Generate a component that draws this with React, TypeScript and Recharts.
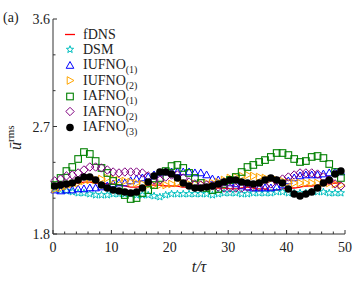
import React from 'react';
import { ComposedChart, Line, XAxis, YAxis } from 'recharts';

const times = [
  0.3, 1.3, 2.3, 3.3, 4.3, 5.3, 6.3, 7.3, 8.3, 9.3,
  10.3, 11.3, 12.3, 13.3, 14.3, 15.3, 16.3, 17.3, 18.3, 19.3,
  20.3, 21.3, 22.3, 23.3, 24.3, 25.3, 26.3, 27.3, 28.3, 29.3,
  30.3, 31.3, 32.3, 33.3, 34.3, 35.3, 36.3, 37.3, 38.3, 39.3,
  40.3, 41.3, 42.3, 43.3, 44.3, 45.3, 46.3, 47.3, 48.3, 49.3,
];

const fdns = [
  2.202, 2.21, 2.219, 2.227, 2.227, 2.235, 2.235, 2.227, 2.227, 2.219,
  2.219, 2.21, 2.202, 2.193, 2.193, 2.202, 2.21, 2.21, 2.21, 2.202,
  2.202, 2.202, 2.193, 2.193, 2.193, 2.193, 2.193, 2.185, 2.185, 2.185,
  2.177, 2.177, 2.185, 2.193, 2.185, 2.177, 2.177, 2.168, 2.168, 2.177,
  2.185, 2.185, 2.193, 2.202, 2.202, 2.21, 2.219, 2.219, 2.227, 2.227,
];

const dsm = [
  2.177, 2.168, 2.16, 2.152, 2.143, 2.143, 2.135, 2.126, 2.126, 2.126,
  2.135, 2.135, 2.135, 2.135, 2.126, 2.126, 2.126, 2.118, 2.11, 2.126,
  2.135, 2.135, 2.135, 2.135, 2.135, 2.135, 2.135, 2.126, 2.135, 2.143,
  2.143, 2.143, 2.135, 2.135, 2.143, 2.143, 2.143, 2.143, 2.152, 2.152,
  2.143, 2.143, 2.143, 2.143, 2.152, 2.152, 2.152, 2.143, 2.143, 2.143,
];

const iufno1 = [
  2.168, 2.16, 2.168, 2.168, 2.177, 2.177, 2.185, 2.185, 2.193, 2.202,
  2.219, 2.227, 2.227, 2.244, 2.26, 2.269, 2.277, 2.294, 2.311, 2.319,
  2.319, 2.319, 2.319, 2.319, 2.311, 2.311, 2.294, 2.26, 2.252, 2.235,
  2.227, 2.219, 2.202, 2.193, 2.185, 2.185, 2.185, 2.185, 2.193, 2.21,
  2.244, 2.269, 2.286, 2.294, 2.294, 2.294, 2.302, 2.311, 2.319, 2.319,
];

const iufno2 = [
  2.177, 2.185, 2.202, 2.219, 2.227, 2.244, 2.252, 2.252, 2.26, 2.269,
  2.26, 2.252, 2.244, 2.235, 2.227, 2.219, 2.21, 2.21, 2.21, 2.21,
  2.219, 2.227, 2.227, 2.219, 2.219, 2.219, 2.227, 2.227, 2.235, 2.252,
  2.269, 2.277, 2.286, 2.294, 2.286, 2.277, 2.269, 2.26, 2.252, 2.244,
  2.235, 2.227, 2.227, 2.227, 2.227, 2.227, 2.227, 2.227, 2.219, 2.21,
];

const iafno1 = [
  2.21, 2.269, 2.327, 2.361, 2.428, 2.486, 2.47, 2.411, 2.353, 2.311,
  2.244, 2.185, 2.126, 2.093, 2.101, 2.143, 2.168, 2.21, 2.269, 2.327,
  2.369, 2.378, 2.353, 2.311, 2.269, 2.227, 2.185, 2.168, 2.177, 2.219,
  2.252, 2.277, 2.319, 2.361, 2.378, 2.403, 2.419, 2.445, 2.478, 2.478,
  2.461, 2.428, 2.403, 2.411, 2.445, 2.453, 2.436, 2.386, 2.319, 2.269,
];

const iafno2 = [
  2.244, 2.26, 2.286, 2.294, 2.311, 2.336, 2.361, 2.361, 2.353, 2.336,
  2.319, 2.311, 2.319, 2.319, 2.319, 2.311, 2.286, 2.252, 2.252, 2.277,
  2.294, 2.294, 2.269, 2.235, 2.219, 2.21, 2.21, 2.202, 2.193, 2.185,
  2.185, 2.185, 2.185, 2.193, 2.193, 2.193, 2.202, 2.219, 2.244, 2.26,
  2.277, 2.294, 2.311, 2.311, 2.311, 2.302, 2.277, 2.252, 2.219, 2.202,
];

const iafno3 = [
  2.202, 2.21, 2.219, 2.227, 2.252, 2.277, 2.277, 2.252, 2.21, 2.185,
  2.168, 2.16, 2.152, 2.143, 2.152, 2.185, 2.235, 2.286, 2.319, 2.319,
  2.302, 2.269, 2.227, 2.202, 2.185, 2.185, 2.193, 2.202, 2.219, 2.235,
  2.252, 2.252, 2.235, 2.227, 2.219, 2.227, 2.252, 2.269, 2.252, 2.227,
  2.177, 2.135, 2.118, 2.135, 2.152, 2.185, 2.227, 2.252, 2.302, 2.327,
];

const xTicks = [0, 2, 4, 6, 8, 10, 12, 14, 16, 18, 20, 22, 24, 26, 28, 30, 32, 34, 36, 38, 40, 42, 44, 46, 48, 50];
const xLabels = [0, 10, 20, 30, 40, 50];
const yTicks = [1.8, 2.1, 2.4, 2.7, 3.0, 3.3, 3.6];
const yLabels = [1.8, 2.7, 3.6];

const series = [
  { key: 'dsm', name: 'DSM', sub: '', color: '#00bfbf', kind: 'star' },
  { key: 'iufno1', name: 'IUFNO', sub: '(1)', color: '#0000ff', kind: 'triUp' },
  { key: 'iufno2', name: 'IUFNO', sub: '(2)', color: '#ffa500', kind: 'triRight' },
  { key: 'iafno1', name: 'IAFNO', sub: '(1)', color: '#008000', kind: 'square' },
  { key: 'iafno2', name: 'IAFNO', sub: '(2)', color: '#800080', kind: 'diamond' },
  { key: 'iafno3', name: 'IAFNO', sub: '(3)', color: '#000000', kind: 'circle' },
];

const rows = times.map((t, i) => ({
  t,
  fdns: fdns[i],
  dsm: dsm[i],
  iufno1: iufno1[i],
  iufno2: iufno2[i],
  iafno1: iafno1[i],
  iafno2: iafno2[i],
  iafno3: iafno3[i],
}));

const FONT = 'Liberation Serif, serif';
const AX = '#333';

const Marker = ({ kind, cx, cy, color }: any) => {
  if (cx == null || cy == null) return null;
  switch (kind) {
    case 'star': {
      const pts: string[] = [];
      for (let k = 0; k < 10; k++) {
        const r = k % 2 === 0 ? 3.8 : 1.6;
        const a = -Math.PI / 2 + (k * Math.PI) / 5;
        pts.push(`${cx + r * Math.cos(a)},${cy + r * Math.sin(a)}`);
      }
      return <polygon points={pts.join(' ')} fill="none" stroke={color} strokeWidth={1} />;
    }
    case 'triUp':
      return (
        <polygon
          points={`${cx},${cy - 4} ${cx + 3.8},${cy + 2.8} ${cx - 3.8},${cy + 2.8}`}
          fill="none" stroke={color} strokeWidth={1}
        />
      );
    case 'triRight':
      return (
        <polygon
          points={`${cx + 4},${cy} ${cx - 2.8},${cy - 3.8} ${cx - 2.8},${cy + 3.8}`}
          fill="none" stroke={color} strokeWidth={1}
        />
      );
    case 'square':
      return <rect x={cx - 3.3} y={cy - 3.3} width={6.6} height={6.6} fill="none" stroke={color} strokeWidth={1.1} />;
    case 'diamond':
      return (
        <polygon
          points={`${cx},${cy - 4.2} ${cx + 4.2},${cy} ${cx},${cy + 4.2} ${cx - 4.2},${cy}`}
          fill="none" stroke={color} strokeWidth={1}
        />
      );
    default:
      return <circle cx={cx} cy={cy} r={3.8} fill={color} />;
  }
};

const XTick = (props: any) => {
  const { x, y, payload } = props;
  const v = payload.value;
  const major = xLabels.includes(v);
  return (
    <g>
      <line x1={x} x2={x} y1={y} y2={y - (major ? 4 : 2.5)} stroke={AX} strokeWidth={1} />
      {major && (
        <text x={x} y={y + 18} textAnchor="middle" fontFamily={FONT} fontSize={14} fill="#222">
          {v}
        </text>
      )}
    </g>
  );
};

const YTick = (props: any) => {
  const { x, y, payload } = props;
  const v = payload.value;
  const major = yLabels.some((l) => Math.abs(l - v) < 1e-6);
  return (
    <g>
      <line x1={x} x2={x + (major ? 4 : 2.5)} y1={y} y2={y} stroke={AX} strokeWidth={1} />
      {major && (
        <text x={x - 3} y={y + 5} textAnchor="end" fontFamily={FONT} fontSize={14} fill="#222">
          {v.toFixed(1)}
        </text>
      )}
    </g>
  );
};

const XLabel = () => (
  <g>
    <text x={199} y={272} textAnchor="middle" fontFamily={FONT} fontSize={16} fontStyle="italic" fill="#222">
      t/τ
    </text>
    <text x={3} y={22} fontFamily={FONT} fontSize={14} fill="#222">
      (a)
    </text>
  </g>
);

const YLabel = () => (
  <text transform="rotate(-90)" x={-150} y={21} fontFamily={FONT} fontSize={16} fill="#222">
    <tspan fontStyle="italic">ū</tspan>
    <tspan fontSize={11} dy={-7}>rms</tspan>
  </text>
);

const LegendBox = () => {
  const items = [{ key: 'fdns', name: 'fDNS', sub: '', color: '#ff0000', kind: 'line' }, ...series];
  return (
    <div style={{ position: 'absolute', left: 60, top: 26.5, fontFamily: FONT, fontSize: 14, color: '#222' }}>
      {items.map((it) => (
        <div key={it.key} style={{ display: 'flex', alignItems: 'center', height: 15.5, lineHeight: '15.5px' }}>
          <svg width={20} height={15} style={{ display: 'block' }}>
            {it.kind === 'line' ? (
              <line x1={5} x2={15} y1={7.5} y2={7.5} stroke={it.color} strokeWidth={1.3} />
            ) : (
              <Marker kind={it.kind} cx={10} cy={7.5} color={it.color} />
            )}
          </svg>
          <span style={{ marginLeft: 3, whiteSpace: 'nowrap' }}>
            {it.name}
            {it.sub && (
              <span style={{ fontSize: 10, position: 'relative', top: 4 }}>{it.sub}</span>
            )}
          </span>
        </div>
      ))}
    </div>
  );
};

export default function App() {
  return (
    <div style={{ position: 'absolute', left: 0, top: 0, width: 360, height: 282, background: '#fff' }}>
      <ComposedChart width={360} height={282} data={rows} margin={{ top: 19, right: 15, bottom: 0, left: 0 }}>
        <XAxis
          dataKey="t"
          type="number"
          domain={[0, 50]}
          ticks={xTicks}
          interval={0}
          height={48}
          tickSize={0}
          tickMargin={0}
          tickLine={false}
          tick={<XTick />}
          axisLine={{ stroke: AX, strokeWidth: 1 }}
          label={<XLabel />}
        />
        <XAxis
          xAxisId="top"
          orientation="top"
          dataKey="t"
          type="number"
          domain={[0, 50]}
          height={0}
          tick={false}
          tickLine={false}
          axisLine={{ stroke: AX, strokeWidth: 1 }}
        />
        <YAxis
          type="number"
          domain={[1.8, 3.6]}
          ticks={yTicks}
          interval={0}
          width={53}
          tickSize={0}
          tickMargin={0}
          tickLine={false}
          tick={<YTick />}
          axisLine={{ stroke: AX, strokeWidth: 1 }}
          label={<YLabel />}
        />
        <YAxis
          yAxisId="right"
          orientation="right"
          type="number"
          domain={[1.8, 3.6]}
          width={0}
          tick={false}
          tickLine={false}
          axisLine={{ stroke: AX, strokeWidth: 1 }}
        />
        {series.map((s) => (
          <Line
            key={s.key}
            dataKey={s.key}
            stroke="none"
            isAnimationActive={false}
            activeDot={false}
            dot={(p: any) => <Marker key={`${s.key}-${p.index}`} kind={s.kind} cx={p.cx} cy={p.cy} color={s.color} />}
          />
        ))}
        <Line
          dataKey="fdns"
          type="monotone"
          stroke="#ff0000"
          strokeWidth={1.3}
          dot={false}
          activeDot={false}
          isAnimationActive={false}
        />
      </ComposedChart>
      <LegendBox />
    </div>
  );
}
